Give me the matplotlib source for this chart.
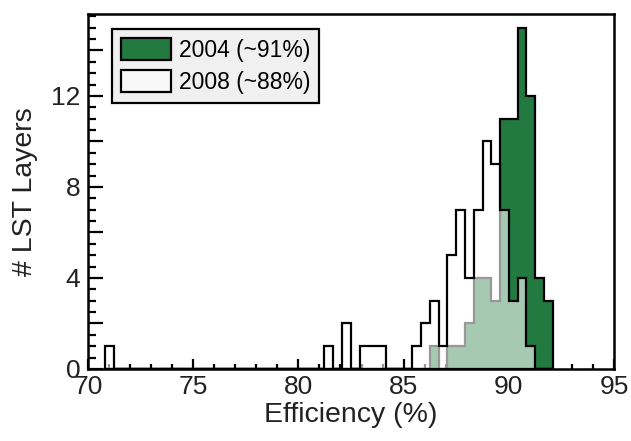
import matplotlib
matplotlib.use('Agg')
import matplotlib.pyplot as plt
from matplotlib.ticker import MultipleLocator, FuncFormatter
import numpy as np

plt.rcParams['font.family'] = ['Liberation Sans', 'DejaVu Sans']

# histogram binning (51 equal bins)
bin_lo = 70.80
bin_hi = 92.09
n_bins = 51

# number of layers per bin
counts_2004 = [0, 0, 0, 0, 0, 0, 0, 0, 0, 0,
               0, 0, 0, 0, 0, 0, 0, 0, 0, 0,
               0, 0, 0, 0, 0, 0, 0, 0, 0, 0,
               0, 0, 0, 0, 0, 0, 0, 1, 0, 1,
               1, 2, 4, 4, 3, 11, 11, 15, 12, 4,
               3]
counts_2008 = [1, 0, 0, 0, 0, 0, 0, 0, 0, 0,
               0, 0, 0, 0, 0, 0, 0, 0, 0, 0,
               0, 0, 0, 0, 0, 1, 0, 2, 0, 1,
               1, 1, 0, 0, 0, 1, 2, 3, 1, 5,
               7, 4, 7, 10, 9, 7, 3, 4, 1, 0,
               0]
labels = ['2004 (~91%)', '2008 (~88%)']

green = '#237a40'

edges = np.linspace(bin_lo, bin_hi, n_bins + 1)
centers = (edges[:-1] + edges[1:]) / 2

fig = plt.figure(figsize=(6.31, 4.41), dpi=100)
ax = fig.add_axes([88 / 631, 1 - 369 / 441, (614 - 88) / 631, (369 - 14) / 441])
ax.set_axisbelow(True)

ax.hist(centers, bins=edges, weights=counts_2004, histtype='stepfilled',
        facecolor=green, edgecolor='black', linewidth=1.6, label=labels[0])
ax.hist(centers, bins=edges, weights=counts_2008, histtype='stepfilled',
        facecolor=(1, 1, 1, 0.6), edgecolor='black', linewidth=1.6, label=labels[1])

ax.set_xlim(70, 95)
ax.set_ylim(0, 15.6)

ax.xaxis.set_major_locator(MultipleLocator(5))
ax.xaxis.set_minor_locator(MultipleLocator(1))
ax.yaxis.set_major_locator(MultipleLocator(2))
ax.yaxis.set_minor_locator(MultipleLocator(0.5))
ax.yaxis.set_major_formatter(FuncFormatter(lambda v, p: '%d' % v if int(round(v)) % 4 == 0 else ''))

ax.tick_params(which='both', direction='in', top=False, right=False, width=1.6,
               colors='black', labelcolor='#222222')
ax.tick_params(axis='x', which='major', length=7, labelsize=19, pad=4.5)
ax.tick_params(axis='x', which='minor', length=3.5)
ax.tick_params(axis='y', which='major', length=11, labelsize=19, pad=5.5)
ax.tick_params(axis='y', which='minor', length=6)

for s in ax.spines.values():
    s.set_linewidth(1.8)

ax.set_xlabel('Efficiency (%)', fontsize=20.5, color='#222222', labelpad=2)
ax.set_ylabel('# LST Layers', fontsize=20.5, color='#222222', labelpad=9)

leg = ax.legend(loc='upper left', bbox_to_anchor=(0.046, 0.958), fontsize=16.5,
                frameon=True, fancybox=False, framealpha=1, facecolor='#f0f0f0',
                edgecolor='black', handlelength=2.15, handleheight=1.1,
                handletextpad=0.35, labelspacing=0.35, borderpad=0.4, borderaxespad=0)
leg.get_frame().set_linewidth(1.6)

fig.savefig('out.png', dpi=100)
